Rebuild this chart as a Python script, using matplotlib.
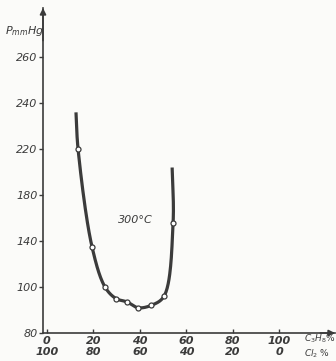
import numpy as np
import matplotlib
matplotlib.use("Agg")
import matplotlib.pyplot as plt

# Propane content (%) and vapour pressure (mm Hg) at 300 °C
c3h8_pct = [12.5, 13.4, 19.4, 25.0, 29.7, 34.5, 39.2, 44.8, 50.4, 54.3, 53.9]
pressure = [236, 220, 135, 100, 95, 93.5, 91, 92, 96, 156, 204]
measured = [False, True, True, True, True, True, True, True, True, True, False]

x_ticks = [0, 20, 40, 60, 80, 100]
cl2_pct = [100, 80, 60, 40, 20, 0]
y_ticks = [80, 100, 140, 180, 220, 240, 260]

INK = "#3b3b3b"
PAPER = "#fbfbf9"
plt.rcParams["mathtext.default"] = "it"

# The printed pressure axis is evenly spaced between uneven tick values
_vals = np.array([60] + y_ticks + [300], dtype=float)
_pos = np.array([-1, 0, 1, 2, 3, 4, 5, 6, 8], dtype=float)


def fwd(v):
    return np.interp(v, _vals, _pos)


def inv(p):
    return np.interp(p, _pos, _vals)


fig = plt.figure(figsize=(3.36, 3.61), dpi=100, facecolor=PAPER)
ax = fig.add_axes([43 / 336, 1 - 333 / 361, (335 - 43) / 336, (333 - 8) / 361])
ax.set_facecolor(PAPER)
ax.set_yscale("function", functions=(fwd, inv))
ax.set_xlim(-1.7, 124)
ax.set_ylim(80, 281.4)

# Smooth curve through the points, computed in display space
pts = ax.transData.transform(np.column_stack([c3h8_pct, pressure]))


def catmull_rom(p, n=30):
    p = np.vstack([2 * p[0] - p[1], p, 2 * p[-1] - p[-2]])
    out = []
    for i in range(1, len(p) - 2):
        p0, p1, p2, p3 = p[i - 1], p[i], p[i + 1], p[i + 2]
        t0 = 0.0
        t1 = t0 + np.linalg.norm(p1 - p0) ** 0.5
        t2 = t1 + np.linalg.norm(p2 - p1) ** 0.5
        t3 = t2 + np.linalg.norm(p3 - p2) ** 0.5
        for t in np.linspace(t1, t2, n, endpoint=False):
            a1 = (t1 - t) / (t1 - t0) * p0 + (t - t0) / (t1 - t0) * p1
            a2 = (t2 - t) / (t2 - t1) * p1 + (t - t1) / (t2 - t1) * p2
            a3 = (t3 - t) / (t3 - t2) * p2 + (t - t2) / (t3 - t2) * p3
            b1 = (t2 - t) / (t2 - t0) * a1 + (t - t0) / (t2 - t0) * a2
            b2 = (t3 - t) / (t3 - t1) * a2 + (t - t1) / (t3 - t1) * a3
            out.append((t2 - t) / (t2 - t1) * b1 + (t - t1) / (t2 - t1) * b2)
    out.append(p[-2])
    return np.array(out)


curve = ax.transData.inverted().transform(catmull_rom(pts))
ax.plot(curve[:, 0], curve[:, 1], color=INK, lw=2.3, solid_capstyle="butt", zorder=2)
mx = [x for x, m in zip(c3h8_pct, measured) if m]
my = [y for y, m in zip(pressure, measured) if m]
ax.plot(mx, my, "o", ms=3.6, mfc="white", mec=INK, mew=0.9, zorder=3)

ax.text(38, 158, "300°C", fontsize=8, style="italic", color=INK,
        family="DejaVu Sans", ha="center", va="center")

for s in ("top", "right"):
    ax.spines[s].set_visible(False)
for s in ("left", "bottom"):
    ax.spines[s].set_color(INK)
    ax.spines[s].set_linewidth(1.2)

ax.set_yticks(y_ticks)
ax.set_yticklabels([str(v) for v in y_ticks])
ax.set_xticks(x_ticks)
ax.set_xticklabels([f"{a}\n{b}" for a, b in zip(x_ticks, cl2_pct)])
ax.tick_params(axis="y", direction="out", length=3, width=1, colors=INK, pad=1,
               labelsize=8)
ax.tick_params(axis="x", direction="in", length=3, width=1, colors=INK, pad=2,
               labelsize=8)
for lab in ax.get_yticklabels():
    lab.set_fontstyle("italic")
    lab.set_family("DejaVu Sans")
for lab in ax.get_xticklabels():
    lab.set_fontstyle("italic")
    lab.set_fontweight("bold")
    lab.set_family("DejaVu Sans")
    lab.set_linespacing(1.1)

# Axis arrows
ax.annotate("", xy=(0, 1.0), xytext=(0, 0.9), xycoords="axes fraction",
            arrowprops=dict(arrowstyle="-|>", color=INK, lw=1.2,
                            mutation_scale=9, shrinkA=0, shrinkB=0))
ax.annotate("", xy=(1.0, 0), xytext=(0.95, 0), xycoords="axes fraction",
            arrowprops=dict(arrowstyle="-|>", color=INK, lw=1.2,
                            mutation_scale=9, shrinkA=0, shrinkB=0),
            annotation_clip=False)

# Axis titles
fig.text(5 / 336, 1 - 31 / 361, r"$P_{mm}$" + "Hg", fontsize=8, style="italic",
         color=INK, va="center", ha="left")
fig.text(304 / 336, 1 - 339 / 361, r"$C_3H_8$%", fontsize=6.5, color=INK,
         va="center", ha="left")
fig.text(304 / 336, 1 - 354 / 361, r"$Cl_2$ %", fontsize=6.5, color=INK,
         va="center", ha="left")

fig.savefig("out.png", dpi=100, facecolor=PAPER)
